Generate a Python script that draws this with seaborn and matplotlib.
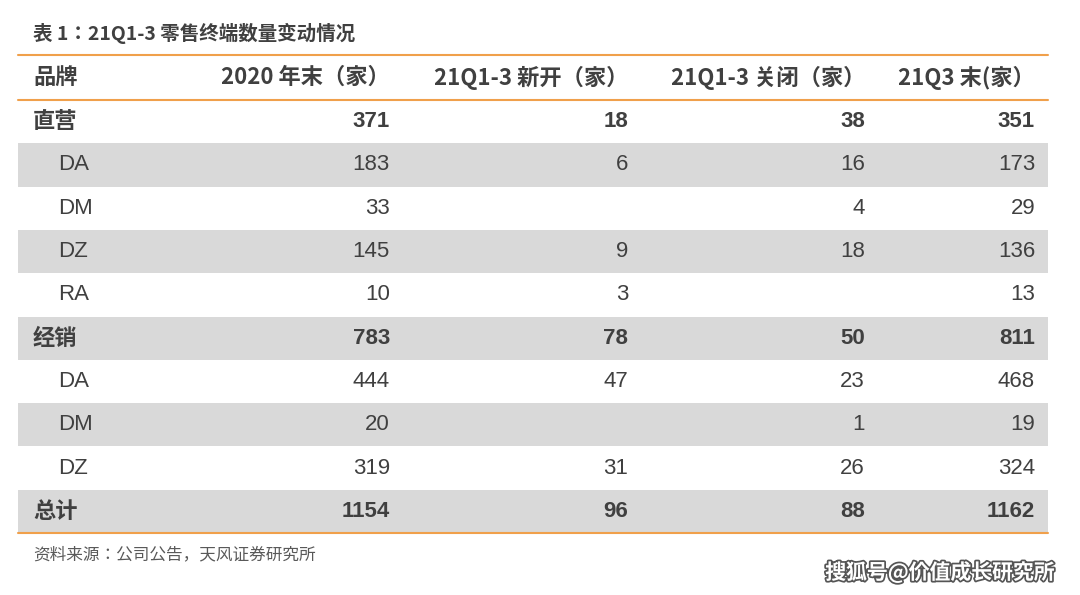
import matplotlib.pyplot as plt
import matplotlib.patheffects as pe
from matplotlib import font_manager as fm
import seaborn as sns

sns.set_theme(style="white")

# locate a CJK font file directly (name lookup may miss .ttc collections)
cjk_files = sorted(f for f in fm.findSystemFonts() if 'CJK' in f or 'cjk' in f)
cjk_reg = next((f for f in cjk_files if 'Regular' in f), cjk_files[0] if cjk_files else None)
cjk_bold = next((f for f in cjk_files if 'Bold' in f), cjk_reg)
for f in cjk_files:
    fm.fontManager.addfont(f)
LAT = 'Liberation Sans'

title = '表 1：21Q1-3 零售终端数量变动情况'
headers = ['品牌', '2020 年末（家）', '21Q1-3 新开（家）', '21Q1-3 关闭（家）', '21Q3 末(家）']
brands = ['直营', 'DA', 'DM', 'DZ', 'RA', '经销', 'DA', 'DM', 'DZ', '总计']
end_2020 = [371, 183, 33, 145, 10, 783, 444, 20, 319, 1154]
opened = [18, 6, None, 9, 3, 78, 47, None, 31, 96]
closed = [38, 16, 4, 18, None, 50, 23, 1, 26, 88]
end_q3 = [351, 173, 29, 136, 13, 811, 468, 19, 324, 1162]
bold_rows = [0, 5, 9]
source = '资料来源：公司公告，天风证券研究所'
watermark = '搜狐号@价值成长研究所'

orange = '#f0a04b'
gray = '#d9d9d9'
txt = '#404040'


def fp(s, size, bold=False):
    if any(ord(c) > 0x2000 for c in s):
        return fm.FontProperties(fname=cjk_bold if bold else cjk_reg, size=size)
    return fm.FontProperties(family=LAT, size=size, weight='bold' if bold else 'normal')


fig = plt.figure(figsize=(10.8, 5.95), dpi=100)
ax = fig.add_axes([0, 0, 1, 1])
ax.set_xlim(0, 1080)
ax.set_ylim(595, 0)
ax.axis('off')

x0, x1 = 18, 1048
top, head_h, row_h = 55, 45, 43.3
col_right = [390, 628, 865, 1035]

ax.text(33, 33, title, fontproperties=fp(title, 14, True), color=txt, va='center')
ax.plot([x0, x1], [top, top], color=orange, lw=1.5)
hy = top + head_h / 2
ax.text(33, hy, headers[0], fontproperties=fp(headers[0], 16, True), color=txt, va='center')
for h, xr in zip(headers[1:], col_right):
    ax.text(xr, hy, h, fontproperties=fp(h, 16, True), color=txt, va='center', ha='right')
ax.plot([x0, x1], [top + head_h, top + head_h], color=orange, lw=1.5)

for i, b in enumerate(brands):
    y_top = top + head_h + i * row_h
    if i % 2 == 1:
        ax.fill_between([x0, x1], y_top, y_top + row_h, color=gray, lw=0)
    yc = y_top + row_h / 2
    bold = i in bold_rows
    ax.text(33 if bold else 58, yc, b, fontproperties=fp(b, 16, bold), color=txt, va='center')
    for vals, xr in zip([end_2020, opened, closed, end_q3], col_right):
        v = vals[i]
        if v is not None:
            ax.text(xr, yc, str(v), fontproperties=fp(str(v), 16, bold), color=txt,
                    va='center', ha='right')

bottom = top + head_h + len(brands) * row_h
ax.plot([x0, x1], [bottom, bottom], color=orange, lw=1.5)
ax.text(33, bottom + 22, source, fontproperties=fp(source, 12), color='#595959', va='center')
ax.text(1055, 572, watermark, fontproperties=fp(watermark, 15, True), color='white',
        va='center', ha='right', path_effects=[pe.withStroke(linewidth=2.5, foreground='#555555')])

fig.savefig('out.png', dpi=100)
